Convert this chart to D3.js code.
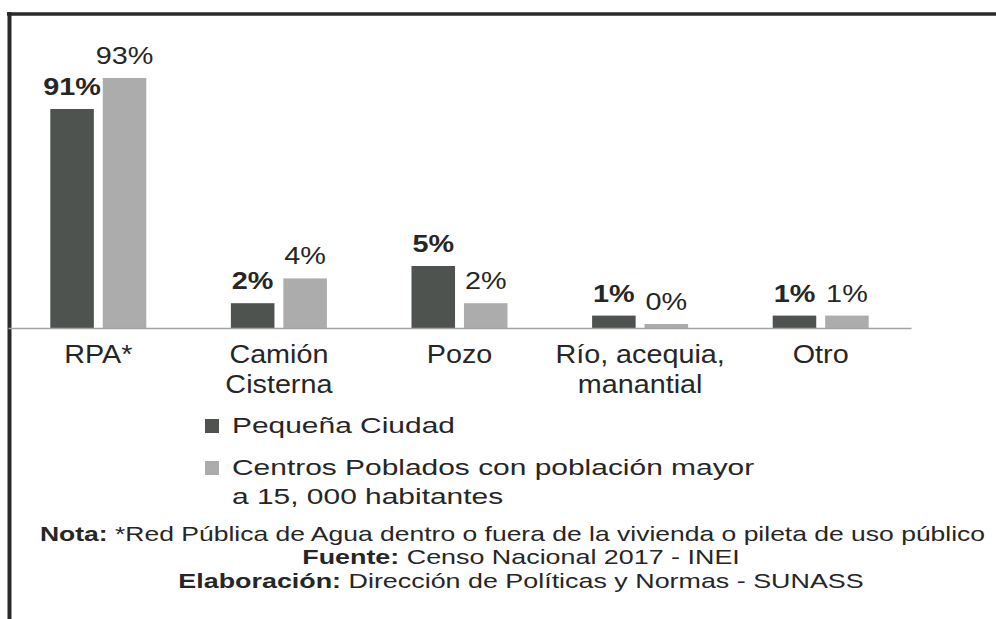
<!DOCTYPE html>
<html>
<head>
<meta charset="utf-8">
<script src="https://cdn.jsdelivr.net/npm/d3@7"></script>
<style>
  body { margin: 0; background: #fff; }
  text { font-family: "Liberation Sans", Arial, sans-serif; fill: #262626; }
</style>
</head>
<body>
<script>
var categories = ["RPA*", "Camión\nCisterna", "Pozo", "Río, acequia,\nmanantial", "Otro"];
var seriesNames = ["Pequeña Ciudad", "Centros Poblados con población mayor\na 15, 000 habitantes"];
var pequenaCiudad = [91, 2, 5, 1, 1];
var centrosPoblados = [93, 4, 2, 0, 1];
var notaBold = "Nota:";
var notaText = " *Red Pública de Agua dentro o fuera de la vivienda o pileta de uso público";
var fuenteBold = "Fuente:";
var fuenteText = " Censo Nacional 2017 - INEI";
var elabBold = "Elaboración:";
var elabText = " Dirección de Políticas y Normas - SUNASS";

var W = 996, H = 619;
var colors = ["#4e5350", "#acacac"];

var rows = categories.map(function(c, i) {
    return {cat: c, vals: [pequenaCiudad[i], centrosPoblados[i]]};
});

var svg = d3.select("body").append("svg")
    .attr("width", W)
    .attr("height", H);

// frame (scanned page: only top and left edges visible)
svg.append("line").attr("x1", 7).attr("x2", W).attr("y1", 14).attr("y2", 14)
    .attr("stroke", "#2a2a2a").attr("stroke-width", 3.5);
svg.append("line").attr("x1", 9.5).attr("x2", 9.5).attr("y1", 12).attr("y2", H)
    .attr("stroke", "#2a2a2a").attr("stroke-width", 4);

var x = d3.scaleBand().domain(categories).range([8, 911]);
var x1 = d3.scaleBand().domain([0, 1])
    .range([x.bandwidth() / 2 - 48, x.bandwidth() / 2 + 48])
    .paddingInner(0.17);
// the original chart is not drawn to a linear scale, small values are enlarged
var y = d3.scaleLinear().domain([0, 5, 91, 93]).range([328, 266, 109, 78]);

// helper: text stretched horizontally like the scan
function stretched(g, tx, ty, sx, anchor) {
    return g.append("text")
        .attr("transform", "translate(" + tx + "," + ty + ") scale(" + sx + ",1)")
        .attr("text-anchor", anchor || "start");
}

var groups = svg.selectAll("g.cat")
    .data(rows)
    .enter().append("g")
    .attr("class", "cat")
    .attr("transform", function(d) { return "translate(" + x(d.cat) + ",0)"; });

groups.selectAll("rect")
    .data(function(d) { return d.vals; })
    .enter().append("rect")
    .attr("x", function(d, i) { return x1(i); })
    .attr("width", x1.bandwidth())
    .attr("y", function(d) { return Math.min(y(d), y(0) - 4); })
    .attr("height", function(d) { return Math.max(y(0) - y(d), 4); })
    .attr("fill", function(d, i) { return colors[i]; });

groups.each(function(d) {
    var g = d3.select(this);
    d.vals.forEach(function(v, i) {
        var top = Math.min(y(v), y(0) - 4);
        stretched(g, x1(i) + x1.bandwidth() / 2, top - 14, 1.2, "middle")
            .style("font-size", "24px")
            .style("font-weight", i === 0 ? "bold" : "normal")
            .text(v + "%");
    });
    d.cat.split("\n").forEach(function(line, k) {
        stretched(g, x.bandwidth() / 2, 363 + k * 29.5, 1.15, "middle")
            .style("font-size", "25px")
            .text(line);
    });
});

// baseline
var axis = d3.axisBottom(x).tickSize(0).tickSizeOuter(0).tickFormat("");
svg.append("g")
    .attr("transform", "translate(0," + y(0) + ")")
    .call(axis)
    .select(".domain")
    .attr("stroke", "#a3a3a3")
    .attr("stroke-width", 1.5);

// legend
var legendY = [433, 475];
seriesNames.forEach(function(name, i) {
    svg.append("rect")
        .attr("x", 205).attr("y", legendY[i] - 14)
        .attr("width", 14).attr("height", 14)
        .attr("fill", colors[i]);
    name.split("\n").forEach(function(line, k) {
        stretched(svg, 232, legendY[i] + k * 29, 1.33, "start")
            .style("font-size", "22.5px")
            .text(line);
    });
});

// notes
function note(boldPart, rest, tx, ty, anchor, sx) {
    var t = stretched(svg, tx, ty, sx, anchor).style("font-size", "21px");
    t.append("tspan").style("font-weight", "bold").text(boldPart);
    t.append("tspan").text(rest);
}
note(notaBold, notaText, 40, 541, "start", 1.262);
note(fuenteBold, fuenteText, 521, 564, "middle", 1.28);
note(elabBold, elabText, 521, 588, "middle", 1.28);
</script>
</body>
</html>
